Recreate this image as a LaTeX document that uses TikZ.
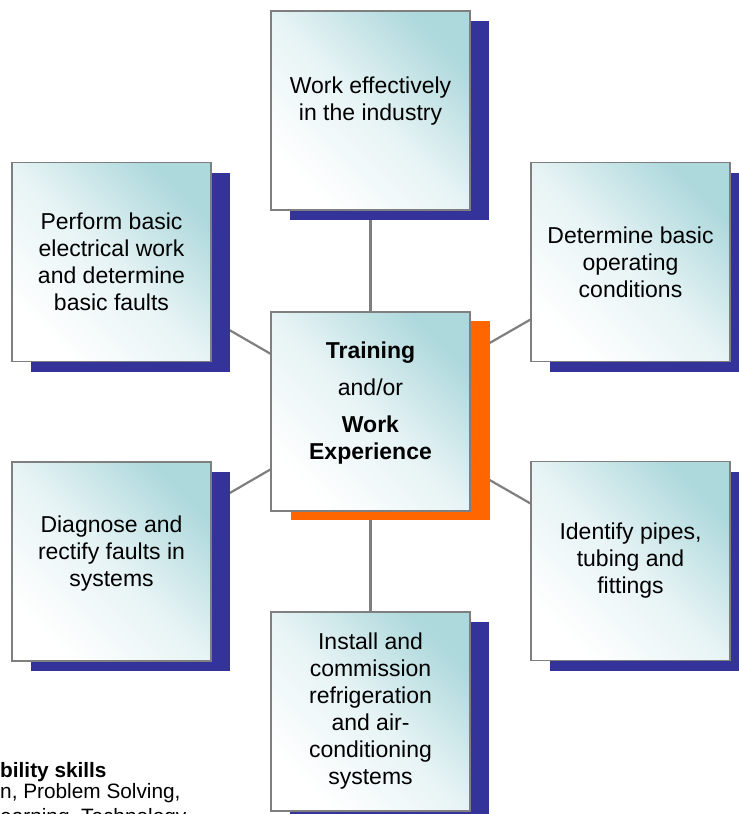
\documentclass[tikz,border=0pt]{standalone}
\usepackage{fontspec}
\setmainfont{Liberation Sans}
\usetikzlibrary{shadows,backgrounds}
\definecolor{boxteal}{HTML}{ADD8DC}
\definecolor{shadowblue}{HTML}{333399}
\definecolor{shadoworange}{HTML}{FF6600}
\definecolor{linegrey}{HTML}{7F7F7F}
\tikzset{
	unitbox/.style={draw=linegrey, line width=1.5pt, minimum width=199pt, minimum height=199pt,
		inner sep=0pt, align=center, font=\fontsize{23}{27}\selectfont,
		top color=boxteal, bottom color=white, middle color=boxteal!30!white, shading angle=-45},
	blueshadow/.style={general shadow={fill=shadowblue, shadow xshift=19pt, shadow yshift=-10pt}},
	orangeshadow/.style={general shadow={fill=shadoworange, shadow xshift=20pt, shadow yshift=-9pt}},
	link/.style={draw=linegrey, line width=2.2pt},
	skilltext/.style={anchor=base west, inner sep=0pt, font=\fontsize{20.8}{22}\selectfont}
}

\begin{document}
\begin{tikzpicture}[x=1pt, y=-1pt]
		%%%%% START %%%%%
		\useasboundingbox (0, 0) rectangle (739, 814);
		\clip (0, 0) rectangle (739, 814);
		
		\node[unitbox, blueshadow, text depth=24pt] (work) at (370.5, 110.5) {Work effectively\\in the industry};
		\node[unitbox, blueshadow] (elec) at (111.5, 262) {Perform basic\\electrical work\\and determine\\basic faults};
		\node[unitbox, blueshadow] (oper) at (630.5, 262) {Determine basic\\operating\\conditions};
		
		\node[unitbox, orangeshadow, text depth=21pt] (centre) at (370.5, 411.5)
			{\textbf{Training}\\[10pt]and/or\\[10pt]\textbf{Work}\\\textbf{Experience}};
		
		\node[unitbox, blueshadow, text depth=20pt] (diag) at (111.5, 561.5) {Diagnose and\\rectify faults in\\systems};
		\node[unitbox, blueshadow] (pipes) at (630.5, 561) {Identify pipes,\\tubing and\\fittings};
		\node[unitbox, blueshadow] (install) at (370.5, 711.5)
			{Install and\\commission\\refrigeration\\and air-\\conditioning\\systems};
		
		% lines sit behind the boxes and their shadows
		\begin{pgfonlayer}{background}
			\draw[link] (centre.center) -- (work.center);
			\draw[link] (centre.center) -- (elec.center);
			\draw[link] (centre.center) -- (oper.center);
			\draw[link] (centre.center) -- (diag.center);
			\draw[link] (centre.center) -- (pipes.center);
			\draw[link] (centre.center) -- (install.center);
		\end{pgfonlayer}
		
		\node[skilltext, font=\fontsize{20.8}{22}\selectfont\bfseries] (skills) at (0, 777) {bility skills};
		\node[skilltext] (solving) at (0, 798) {n, Problem Solving,};
		\node[skilltext] (techno) at (0, 823) {earning, Technology};
		
		%%%%% END %%%%%
	\end{tikzpicture}
\end{document}
